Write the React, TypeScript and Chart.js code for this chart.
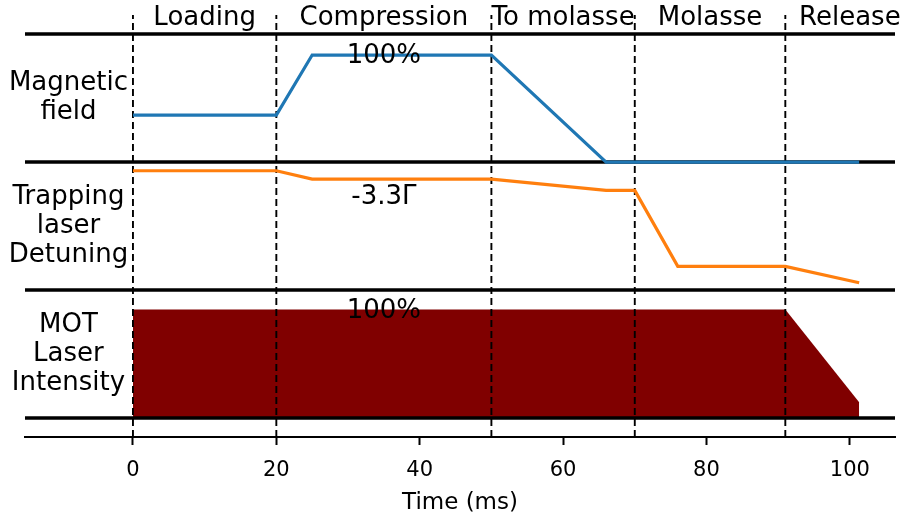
import React, { useEffect, useRef } from "react";
import { Chart, registerables } from "chart.js";

Chart.register(...registerables);

// ---- data ----
const xMin = -15.06;
const xMax = 106.3;
const yMin = -0.148;
const yMax = 3.266;
const dashTop = 3.148;

const xTicks = [0, 20, 40, 60, 80, 100];

const phaseBoundaries = [0, 20, 50, 70, 91];
const phaseNames = ["Loading", "Compression", "To molasse", "Molasse", "Release"];
const phaseLabelX = [10, 35, 60, 80.5, 100];
const phaseLabelY = 3.12;

const panelLines = [0, 1, 2, 3];

const panelLabels = [["Magnetic", "field"], ["Trapping", "laser", "Detuning"], ["MOT", "Laser", "Intensity"]];
const panelLabelY = [2.5, 1.5, 0.5];
const panelLabelX = -9;

const fieldTime = [0, 20, 25, 50, 66, 101.3];
const fieldLevel = [2.367, 2.367, 2.836, 2.836, 2.0, 2.0];

const detuningTime = [0, 20, 25, 50, 66, 70, 76, 91, 101.3];
const detuningLevel = [1.932, 1.932, 1.867, 1.867, 1.779, 1.779, 1.185, 1.185, 1.057];

const intensityTime = [0, 25, 66, 76, 91, 101.3];
const intensityLevel = [0.849, 0.849, 0.849, 0.849, 0.849, 0.123];

const valueNotes = ["100%", "-3.3Γ", "100%"];
const valueNoteX = [35, 35, 35];
const valueNoteY = [2.83, 1.727, 0.832];

const FONT = '"DejaVu Sans", sans-serif';

const annotationPlugin = {
  id: "annotations",
  afterDraw(chart: any) {
    const { ctx, scales } = chart;
    const x = scales.x;
    const y = scales.y;
    ctx.save();
    ctx.fillStyle = "#000";
    ctx.font = `26px ${FONT}`;
    ctx.textAlign = "center";
    ctx.textBaseline = "middle";
    phaseNames.forEach((n, i) => {
      ctx.fillText(n, x.getPixelForValue(phaseLabelX[i]), y.getPixelForValue(phaseLabelY));
    });
    const lh = 29;
    panelLabels.forEach((lines, i) => {
      const cy = y.getPixelForValue(panelLabelY[i]);
      const cx = x.getPixelForValue(panelLabelX);
      lines.forEach((ln, j) => {
        ctx.fillText(ln, cx, cy + (j - (lines.length - 1) / 2) * lh);
      });
    });
    valueNotes.forEach((n, i) => {
      ctx.fillText(n, x.getPixelForValue(valueNoteX[i]), y.getPixelForValue(valueNoteY[i]));
    });
    ctx.restore();
  },
};

export default function App() {
  const ref = useRef<HTMLCanvasElement>(null);
  useEffect(() => {
    if (!ref.current) return;
    const datasets: any[] = [];
    datasets.push({
      label: "field",
      data: fieldTime.map((t, i) => ({ x: t, y: fieldLevel[i] })),
      borderColor: "#1f77b4",
      borderWidth: 3.2,
      pointRadius: 0,
      fill: false,
      order: 0,
    });
    datasets.push({
      label: "detuning",
      data: detuningTime.map((t, i) => ({ x: t, y: detuningLevel[i] })),
      borderColor: "#ff7f0e",
      borderWidth: 3.2,
      pointRadius: 0,
      fill: false,
      order: 0,
    });
    phaseBoundaries.forEach((b) => {
      datasets.push({
        label: "b" + b,
        data: [
          { x: b, y: yMin },
          { x: b, y: dashTop },
        ],
        borderColor: "#000",
        borderWidth: 1.9,
        borderDash: [7, 4],
        pointRadius: 0,
        fill: false,
        order: 1,
      });
    });
    panelLines.forEach((l) => {
      datasets.push({
        label: "p" + l,
        data: [
          { x: xMin, y: l },
          { x: xMax, y: l },
        ],
        borderColor: "#000",
        borderWidth: 3.6,
        pointRadius: 0,
        fill: false,
        order: 2,
      });
    });
    datasets.push({
      label: "intensity",
      data: intensityTime.map((t, i) => ({ x: t, y: intensityLevel[i] })),
      borderWidth: 0,
      borderColor: "rgba(0,0,0,0)",
      backgroundColor: "#800000",
      pointRadius: 0,
      fill: { value: 0 },
      order: 3,
    });

    const chart = new Chart(ref.current, {
      type: "line",
      data: { datasets },
      options: {
        animation: false,
        responsive: false,
        events: [],
        layout: { padding: { left: 25, right: 8, top: 0, bottom: 0 } },
        plugins: { legend: { display: false }, tooltip: { enabled: false } },
        elements: { line: { tension: 0 } },
        scales: {
          x: {
            type: "linear",
            min: xMin,
            max: xMax,
            afterBuildTicks: (s: any) => {
              s.ticks = xTicks.map((v) => ({ value: v }));
            },
            afterFit: (s: any) => {
              s.height = 83;
            },
            grid: { drawOnChartArea: false, drawTicks: true, tickLength: 8, tickWidth: 2, color: "#000" },
            border: { display: true, color: "#000", width: 2 },
            ticks: { color: "#000", font: { family: FONT, size: 21 }, padding: 13, maxRotation: 0 },
            title: {
              display: true,
              text: "Time (ms)",
              color: "#000",
              font: { family: FONT, size: 23 },
              padding: { top: 0, bottom: 3 },
            },
          },
          y: { type: "linear", display: false, min: yMin, max: yMax },
        },
      },
      plugins: [annotationPlugin],
    });
    return () => chart.destroy();
  }, []);
  return (
    <div style={{ position: "fixed", left: 0, top: 0, width: 903, height: 520, background: "#fff" }}>
      <canvas ref={ref} width={903} height={520} style={{ display: "block" }} />
    </div>
  );
}
